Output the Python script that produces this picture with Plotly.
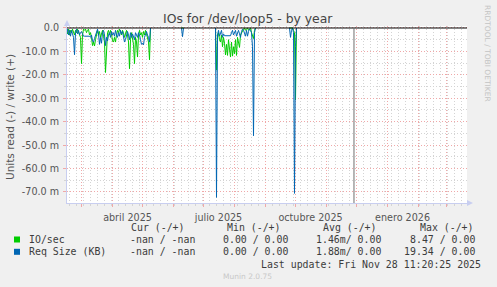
import plotly.graph_objects as go
import pandas as pd

# ---------------- data (values in milli-units, read is negative) ----------------
seg_starts = ["2025-02-14", "2025-06-09", "2025-07-13", "2025-09-25"]

io_seg1 = [-1.0, -2.5, -0.5, -3.0, -1.0, -2.0, -0.5, -1.5, -3.0, -1.0,
           -2.0, -0.5, -1.5, -2.5, -4.0, -15.2, -3.0, -0.5, -1.0, -0.5,
           -2.0, -1.0, -0.5, -3.0, -2.0, -4.0, -7.5, -6.0, -7.7, -5.0,
           -2.0, -1.0, -3.0, -1.5, -4.0, -2.5, -1.0, -3.5, -6.0, -19.0,
           -8.0, -2.0, -1.0, -3.0, -1.0, -2.5, -5.5, -6.0, -4.0, -6.0,
           -3.0, -1.0, -2.0, -0.5, -1.5, -3.0, -1.0, -2.0, -4.0, -2.0,
           -1.0, -3.0, -6.0, -17.4, -5.0, -2.0, -4.0, -7.0, -15.2, -4.0,
           -6.0, -12.4, -3.0, -1.0, -3.0, -2.0, -4.0, -1.5, -3.0, -1.0,
           -2.5, -4.0, -6.0, -13.6, 0.0]
req_seg1 = [-2.0, -0.5, -3.0, -1.0, -3.5, -1.0, -2.5, -4.0, -11.4, -2.0,
            -0.5, -2.5, -1.0, -3.0, -2.0, -1.5, -2.5, -3.5, -3.5, -3.5,
            -3.5, -3.5, -3.8, -3.5, -4.0, -3.0, -5.5, -6.0, -4.5, -3.0,
            -2.0, -0.5, -2.5, -7.0, -4.0, -6.5, -2.0, -1.0, -3.0, -7.5,
            -4.0, -5.5, -3.0, -2.0, -4.0, -1.5, -3.0, -2.0, -3.5, -1.0,
            -3.0, -4.0, -2.0, -3.5, -1.0, -2.5, -1.5, -4.0, -6.0, -5.0,
            -3.0, -1.5, -3.0, -5.0, -2.0, -4.0, -2.5, -3.5, -5.0, -2.0,
            -3.0, -4.0, -2.0, -3.0, -5.0, -7.0, -6.5, -7.2, -4.0, -2.5,
            -1.5, -3.0, -4.0, -6.0, 0.0]

io_seg2 = [0.0, 0.0, 0.0]
req_seg2 = [0.0, -3.7, 0.0]

io_seg3 = [0.0, -18.0, -4.0, -2.0, -5.0, -6.0, -3.0, -8.0, -4.0, -6.5,
           -11.5, -7.0, -11.7, -5.0, -9.0, -12.4, -6.0, -12.0, -8.0, -11.0,
           -5.0, -11.7, -4.0, -6.0, -8.3, -3.0, -2.0, -1.0, -0.5, 0.0,
           -1.0, -0.5, 0.0, -1.0, -0.5, 0.0, -2.0, -3.0, -4.5, -1.0, 0.0]
req_seg3 = [0.0, -72.3, -3.0, -1.0, -3.5, -2.0, -1.0, -4.0, -2.5, -3.3,
            -3.3, -3.3, -3.3, -3.3, -3.3, -3.3, -2.0, -1.0, -3.0, -2.0,
            -1.0, -3.5, -2.0, -1.0, -2.5, -4.0, -1.5, -0.5, -1.0, -2.5,
            -3.5, -1.0, -3.5, -1.5, -0.5, -1.0, -2.0, -8.0, -46.0, -2.0, 0.0]

io_seg4 = [0.0, 0.0, 0.0, 0.0, -1.0, -2.0, -30.7, 0.0]
req_seg4 = [0.0, -4.0, -1.0, 0.0, -2.0, -70.6, -8.0, 0.0]

io_segments = [io_seg1, io_seg2, io_seg3, io_seg4]
req_segments = [req_seg1, req_seg2, req_seg3, req_seg4]

y_tick_vals = [0, -10, -20, -30, -40, -50, -60, -70]
y_tick_text = ["0.0", "-10.0 m", "-20.0 m", "-30.0 m", "-40.0 m",
               "-50.0 m", "-60.0 m", "-70.0 m"]
x_label_dates = ["2025-04-16", "2025-07-16", "2025-10-16", "2026-01-16"]
x_label_text = ["abril 2025", "julio 2025", "octubre 2025", "enero 2026"]

x_start, x_end = "2025-02-14 12:00", "2026-03-21 12:00"
now_date = "2025-11-28 11:20"

series_names = ["IO/sec", "Req Size (KB)"]
series_colors = ["#00cc00", "#0066b3"]
col_cur = ["-nan / -nan", "-nan / -nan"]
col_min = ["0.00 / 0.00", "0.00 / 0.00"]
col_avg = ["1.46m/ 0.00", "1.88m/ 0.00"]
col_max = ["8.47 / 0.00", "19.34 / 0.00"]
headers = ["Cur (-/+)", "Min (-/+)", "Avg (-/+)", "Max (-/+)"]
last_update = "Last update: Fri Nov 28 11:20:25 2025"

# ---------------- geometry ----------------
W_FIG, H_FIG = 497, 287
L, R, T, B = 67, 30, 26, 84
PW, PH = W_FIG - L - R, H_FIG - T - B


def px(x):
    return (x - L) / PW


def py(y):
    return 1 - (y - T) / PH


def build(segments):
    xs, ys = [], []
    for start, vals in zip(seg_starts, segments):
        dates = pd.date_range(start, periods=len(vals), freq="D")
        xs.extend(list(dates))
        ys.extend(vals)
        xs.append(dates[-1])
        ys.append(None)
    return xs, ys


fig = go.Figure()
for segs, name, color in zip([io_segments, req_segments], series_names, series_colors):
    xs, ys = build(segs)
    fig.add_trace(go.Scatter(x=xs, y=ys, mode="lines", name=name,
                             line=dict(color=color, width=1),
                             connectgaps=False, showlegend=False, hoverinfo="skip"))

# dummy trace for label axis
fig.add_trace(go.Scatter(x=[x_label_dates[0]], y=[None], xaxis="x2", yaxis="y",
                         showlegend=False, hoverinfo="skip"))

MAJ = "#f0a8a8"
MIN = "#d4d4d4"
AX = "#c8cef0"
SANS = "DejaVu Sans"
MONO = "DejaVu Sans Mono"

fig.update_layout(
    width=W_FIG, height=H_FIG,
    margin=dict(l=L, r=R, t=T, b=B, pad=0),
    paper_bgcolor="#f0f0f0", plot_bgcolor="#ffffff",
    showlegend=False,
    xaxis=dict(type="date", range=[x_start, x_end], dtick="M1", tick0="2025-03-01",
               showticklabels=False, showgrid=True, gridcolor=MAJ, griddash="1px,2px",
               gridwidth=1, ticks="outside", ticklen=3, tickcolor=MAJ,
               showline=True, linecolor=AX, linewidth=1, zeroline=False,
               minor=dict(dtick=7 * 86400000, tick0="2025-02-17", showgrid=True,
                          gridcolor=MIN, griddash="1px,2px", ticks="outside",
                          ticklen=2, tickcolor=MIN)),
    xaxis2=dict(type="date", overlaying="x", matches="x", side="bottom", anchor="y",
                tickmode="array", tickvals=x_label_dates, ticktext=x_label_text,
                showgrid=False, ticks="outside", ticklen=5,
                tickcolor="rgba(0,0,0,0)", showline=False, zeroline=False,
                tickfont=dict(family=SANS, size=9.6, color="#555555")),
    yaxis=dict(range=[-74.7, 0.85], tickmode="array", tickvals=y_tick_vals,
               ticktext=y_tick_text, showgrid=True, gridcolor=MAJ, griddash="1px,2px",
               ticks="outside", ticklen=3, tickcolor=MAJ, ticklabelstandoff=2,
               showline=True, linecolor=AX, linewidth=1, zeroline=False,
               tickfont=dict(family=SANS, size=9.6, color="#555555"),
               minor=dict(dtick=5, tick0=0, showgrid=True, gridcolor=MIN,
                          griddash="1px,2px", ticks="outside", ticklen=2, tickcolor=MIN)),
)

shapes = []
# zero line
shapes.append(dict(type="line", xref="paper", yref="y", x0=0, x1=1, y0=0, y1=0,
                   line=dict(color="#000000", width=1)))
# now line
shapes.append(dict(type="line", xref="x", yref="paper", x0=now_date, x1=now_date,
                   y0=0, y1=py(28), line=dict(color="#707070", width=1)))
# axis arrows
shapes.append(dict(type="path", xref="paper", yref="paper",
                   path=f"M {px(64)} {py(26)} L {px(70)} {py(26)} L {px(67)} {py(20)} Z",
                   fillcolor=AX, line=dict(width=0)))
shapes.append(dict(type="path", xref="paper", yref="paper",
                   path=f"M {px(467)} {py(200)} L {px(467)} {py(206)} L {px(473)} {py(203)} Z",
                   fillcolor=AX, line=dict(width=0)))
# legend squares
for i, c in enumerate(series_colors):
    yc = 239.5 + i * 12.3
    shapes.append(dict(type="rect", xref="paper", yref="paper",
                       x0=px(14), x1=px(20), y0=py(yc + 3), y1=py(yc - 3),
                       fillcolor=c, line=dict(width=0)))
fig.update_layout(shapes=shapes)

ann = []
ann.append(dict(text="IOs for /dev/loop5 - by year", x=px(248), y=py(18.5),
                xref="paper", yref="paper", showarrow=False, xanchor="center",
                yanchor="middle", font=dict(family=SANS, size=12.4, color="#444444")))
ann.append(dict(text="Units read (-) / write (+)", x=px(10), y=py(117),
                xref="paper", yref="paper", showarrow=False, textangle=-90,
                xanchor="center", yanchor="middle",
                font=dict(family=SANS, size=10.5, color="#555555")))
ann.append(dict(text="RRDTOOL / TOBI OETIKER", x=px(488), y=py(53),
                xref="paper", yref="paper", showarrow=False, textangle=90,
                xanchor="center", yanchor="middle",
                font=dict(family=SANS, size=7.5, color="#c4c4c4")))
ann.append(dict(text="Munin 2.0.75", x=px(247.5), y=py(276),
                xref="paper", yref="paper", showarrow=False,
                xanchor="center", yanchor="middle",
                font=dict(family=SANS, size=7.5, color="#c8c8c8")))

LEG = dict(family=MONO, size=9.9, color="#3c3c3c")
header_right = [187, 283, 379, 476]
for h, xr in zip(headers, header_right):
    ann.append(dict(text=h, x=px(xr), y=py(227.7), xref="paper", yref="paper",
                    showarrow=False, xanchor="right", yanchor="middle", font=LEG))
col_right = [197, 290, 383, 477]
for i in range(2):
    yc = 239.5 + i * 12.3
    ann.append(dict(text=series_names[i], x=px(26.5), y=py(yc), xref="paper",
                    yref="paper", showarrow=False, xanchor="left", yanchor="middle",
                    font=LEG))
    for col, xr in zip([col_cur, col_min, col_avg, col_max], col_right):
        ann.append(dict(text=col[i], x=px(xr), y=py(yc), xref="paper", yref="paper",
                        showarrow=False, xanchor="right", yanchor="middle", font=LEG))
ann.append(dict(text=last_update, x=px(482.5), y=py(264), xref="paper", yref="paper",
                showarrow=False, xanchor="right", yanchor="middle", font=LEG))
fig.update_layout(annotations=ann)

fig.write_html("out.html")
